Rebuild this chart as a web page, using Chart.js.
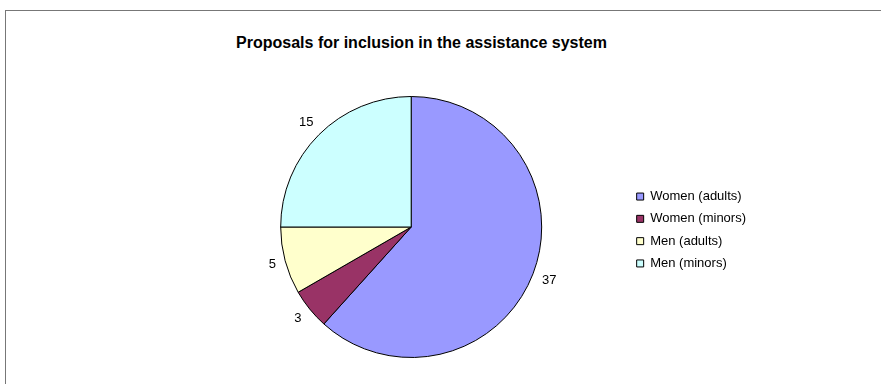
<!DOCTYPE html>
<html>
<head>
<meta charset="utf-8">
<script src="https://cdn.jsdelivr.net/npm/chart.js@4"></script>
<style>
  html, body { margin: 0; padding: 0; background: #fff; }
  #wrap { position: relative; width: 881px; height: 384px; overflow: hidden; }
  #frame {
    position: absolute; left: 5px; top: 10px; width: 900px; height: 400px;
    border-left: 1px solid #777; border-top: 1px solid #777;
  }
  #title {
    position: absolute; left: 0; top: 33px; width: 843px; text-align: center;
    font: bold 16px "Liberation Sans", Arial, sans-serif; line-height: 19px; color: #000;
  }
  canvas { position: absolute; left: 0; top: 0; }
</style>
</head>
<body>
<div id="wrap">
  <div id="frame"></div>
  <div id="title">Proposals for inclusion in the assistance system</div>
  <canvas id="pieChart" width="881" height="384"></canvas>
</div>
<script>
const categories = ["Women (adults)", "Women (minors)", "Men (adults)", "Men (minors)"];
const counts = [37, 3, 5, 15];
const sliceColors = ["#9999FF", "#993366", "#FFFFCC", "#CCFFFF"];

const FONT = "'Liberation Sans', Arial, sans-serif";

// value labels sitting just outside each slice
const outsideLabels = {
  id: "outsideLabels",
  afterDatasetsDraw(chart) {
    const ctx = chart.ctx;
    const meta = chart.getDatasetMeta(0);
    ctx.save();
    ctx.font = "13px " + FONT;
    ctx.fillStyle = "#000";
    ctx.textAlign = "center";
    ctx.textBaseline = "middle";
    meta.data.forEach((arc, i) => {
      const { x, y, startAngle, endAngle, outerRadius } =
        arc.getProps(["x", "y", "startAngle", "endAngle", "outerRadius"], true);
      const mid = (startAngle + endAngle) / 2;
      const cos = Math.cos(mid);
      const sin = Math.sin(mid);
      const text = String(chart.data.datasets[0].data[i]);
      const hw = ctx.measureText(text).width / 2;
      const hh = 7;
      const dist = outerRadius + 8 + hw * Math.abs(cos) + hh * Math.abs(sin);
      ctx.fillText(text, x + cos * dist, y + sin * dist);
    });
    ctx.restore();
  },
};

new Chart(document.getElementById("pieChart"), {
  type: "pie",
  data: {
    labels: categories,
    datasets: [
      {
        data: counts,
        backgroundColor: sliceColors,
        borderColor: "#000",
        borderWidth: 1,
      },
    ],
  },
  options: {
    responsive: false,
    animation: false,
    events: [],
    layout: {
      padding: { top: 96, bottom: 26, left: 195, right: 125 },
    },
    plugins: {
      title: { display: false },
      tooltip: { enabled: false },
      legend: {
        position: "right",
        align: "center",
        // empty title just pushes the items down a little
        title: { display: true, text: "", padding: { top: 6, bottom: 0 }, font: { size: 0 } },
        labels: {
          boxWidth: 7,
          boxHeight: 7,
          padding: 9.3,
          color: "#000",
          font: { family: FONT, size: 13 },
        },
      },
    },
  },
  plugins: [outsideLabels],
});
</script>
</body>
</html>
